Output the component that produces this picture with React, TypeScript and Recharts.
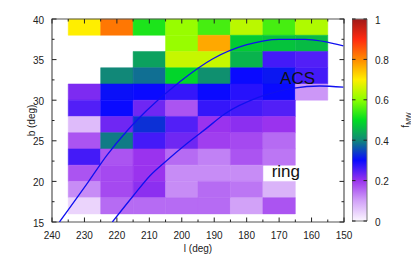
import { ComposedChart, XAxis, YAxis, Line, ReferenceArea, ReferenceDot } from 'recharts';

// chart size and plot box (plot box in px, used for the mirrored ticks)
const W = 411;
const H = 257;
const PLOT_W = 292;
const PLOT_H = 203;
const FONT = 'Liberation Sans, Arial, Helvetica, sans-serif';

// grid: l centers (10 deg wide), b centers (2 deg tall)
const lCenters = [230, 220, 210, 200, 190, 180, 170, 160];
const bCenters = [39, 37, 35, 33, 31, 29, 27, 25, 23, 21, 19, 17];

// f_MW per cell, one row per b center, columns follow lCenters (null = empty)
const fmw: (number | null)[][] = [
    [0.70, 0.82, 0.52, 0.61, 0.55, 0.64, 0.55, 0.63],
    [null, null, null, 0.61, 0.77, 0.48, 0.47, 0.46],
    [null, null, 0.43, 0.65, 0.65, 0.45, 0.26, 0.25],
    [null, 0.40, 0.38, 0.49, 0.41, 0.30, 0.31, 0.26],
    [0.22, 0.305, 0.30, 0.27, 0.30, 0.28, 0.30, 0.11],
    [0.25, 0.30, 0.23, 0.17, 0.27, 0.26, 0.25, null],
    [0.07, 0.23, 0.33, 0.25, 0.20, 0.21, 0.20, null],
    [0.17, 0.39, 0.26, 0.23, 0.19, 0.18, 0.15, null],
    [0.26, 0.17, 0.20, 0.15, 0.13, 0.17, 0.14, null],
    [0.17, 0.18, 0.20, 0.12, 0.12, 0.12, null, null],
    [0.12, 0.18, 0.21, 0.12, 0.15, 0.14, 0.08, null],
    [0.04, 0.15, 0.15, 0.15, 0.15, 0.10, 0.17, null],
];

// ACS great circle
const acsL = [237.7, 228.7, 223.1, 216.7, 210.9, 200.5, 190.4, 180.2, 170, 162, 150.2];
const acsB = [15, 20, 23.2, 26.3, 28.7, 32.3, 35.1, 36.8, 37.5, 37.5, 36.7];

// ring curve
const ringL = [221.4, 215, 209.8, 204.7, 198.6, 192.5, 186.8, 176, 165.4, 157.5, 150.2];
const ringB = [15, 18.2, 20.7, 22.55, 24.6, 26.5, 28.3, 30.4, 31.5, 31.75, 31.6];

// text notes
const noteText = ['ACS', 'ring'];
const noteL = [169.7, 172.3];
const noteB = [32.0, 20.5];

// axis ticks
const xMajor = [240, 230, 220, 210, 200, 190, 180, 170, 160, 150];
const xMinor = [235, 225, 215, 205, 195, 185, 175, 165, 155];
const yMajor = [15, 20, 25, 30, 35, 40];
const yMinor = [17.5, 22.5, 27.5, 32.5, 37.5];
const cbTicks = [0, 0.2, 0.4, 0.6, 0.8, 1];

// colour map of the colour bar
const cmapStops = [0, 0.1, 0.2, 0.3, 0.4, 0.5, 0.6, 0.7, 0.8, 0.9, 1];
const cmapColors = ['#fbf6ff', '#d2a2f8', '#9a33ee', '#0a0aff', '#118878', '#00dd22', '#8cff00', '#ffee00', '#ff8a00', '#ff2a10', '#a01818'];

function hexToRgb(h: string) {
    return [parseInt(h.slice(1, 3), 16), parseInt(h.slice(3, 5), 16), parseInt(h.slice(5, 7), 16)];
}

function colorFor(v: number) {
    let i = 0;
    while (i < cmapStops.length - 2 && v > cmapStops[i + 1]) i++;
    const t = Math.min(1, Math.max(0, (v - cmapStops[i]) / (cmapStops[i + 1] - cmapStops[i])));
    const a = hexToRgb(cmapColors[i]);
    const b = hexToRgb(cmapColors[i + 1]);
    const c = a.map((x, k) => Math.round(x + (b[k] - x) * t));
    return `rgb(${c[0]},${c[1]},${c[2]})`;
}

const cells = bCenters.flatMap((b, r) =>
    lCenters.map((l, c) => ({ l, b, v: fmw[r][c] })).filter(d => d.v !== null)
);
const acsData = acsL.map((l, i) => ({ l, b: acsB[i] }));
const ringData = ringL.map((l, i) => ({ l, b: ringB[i] }));
// two corner points so the colour bar axes have something to scale
const cbRange = [{ x: 0, v: 0 }, { x: 1, v: 1 }];

const XTick = (props: any) => {
    const { x, y, payload } = props;
    const major = payload.value % 10 === 0;
    const len = major ? 4.5 : 2.5;
    return (
        <g>
            <line x1={x} x2={x} y1={y} y2={y - len} stroke="#222" />
            <line x1={x} x2={x} y1={y - PLOT_H} y2={y - PLOT_H + len} stroke="#222" />
            {major && (
                <text x={x} y={y + 13} textAnchor="middle" dominantBaseline="central" fontSize={10} fontFamily={FONT} fill="#222">
                    {payload.value}
                </text>
            )}
        </g>
    );
};

const YTick = (props: any) => {
    const { x, y, payload } = props;
    const major = payload.value % 5 === 0;
    const len = major ? 4.5 : 2.5;
    return (
        <g>
            <line x1={x} x2={x + len} y1={y} y2={y} stroke="#222" />
            <line x1={x + PLOT_W} x2={x + PLOT_W - len} y1={y} y2={y} stroke="#222" />
            {major && (
                <text x={x - 8} y={y + 1} textAnchor="end" dominantBaseline="central" fontSize={10} fontFamily={FONT} fill="#222">
                    {payload.value}
                </text>
            )}
        </g>
    );
};

const CB_PW = 15;

const CbTick = (props: any) => {
    const { x, y, payload } = props;
    return (
        <g>
            <line x1={x} x2={x - 3.5} y1={y} y2={y} stroke="#222" />
            <line x1={x - CB_PW} x2={x - CB_PW + 3.5} y1={y} y2={y} stroke="#222" />
            <text x={x + 8} y={y + 1} textAnchor="start" dominantBaseline="central" fontSize={10} fontFamily={FONT} fill="#222">
                {String(payload.value)}
            </text>
        </g>
    );
};

export default function App() {
    return (
        <div style={{ position: 'absolute', left: 0, top: 0, width: W, height: H, background: '#fff', overflow: 'hidden' }}>
            <div style={{ position: 'absolute', left: 0, top: 0 }}>
                <ComposedChart width={W} height={H} margin={{ top: 19, right: 67, bottom: 0, left: 0 }}>
                    {cells.map(d => (
                        <ReferenceArea
                            key={`${d.l}-${d.b}`}
                            x1={d.l + 5}
                            x2={d.l - 5}
                            y1={d.b - 1}
                            y2={d.b + 1}
                            fill={colorFor(d.v as number)}
                            fillOpacity={1}
                            stroke={colorFor(d.v as number)}
                            strokeWidth={0.5}
                        />
                    ))}
                    <XAxis
                        type="number"
                        dataKey="l"
                        domain={[150, 240]}
                        reversed
                        allowDataOverflow
                        ticks={[...xMajor, ...xMinor]}
                        interval={0}
                        height={35}
                        tickSize={0}
                        tickMargin={0}
                        tickLine={false}
                        axisLine={false}
                        tick={<XTick />}
                        label={(p: any) => (
                            <text x={p.viewBox.x + p.viewBox.width / 2} y={p.viewBox.y + 26} textAnchor="middle" dominantBaseline="central" fontSize={10} fontFamily={FONT} fill="#222">
                                l (deg)
                            </text>
                        )}
                    />
                    <YAxis
                        type="number"
                        dataKey="b"
                        domain={[15, 40]}
                        allowDataOverflow
                        ticks={[...yMajor, ...yMinor]}
                        interval={0}
                        width={52}
                        tickSize={0}
                        tickMargin={0}
                        tickLine={false}
                        axisLine={false}
                        tick={<YTick />}
                        label={(p: any) => {
                            const cx = p.viewBox.x + 31;
                            const cy = p.viewBox.y + p.viewBox.height / 2;
                            return (
                                <text x={cx} y={cy} transform={`rotate(-90, ${cx}, ${cy})`} textAnchor="middle" dominantBaseline="central" fontSize={10} fontFamily={FONT} fill="#222">
                                    b (deg)
                                </text>
                            );
                        }}
                    />
                    <Line data={acsData} dataKey="b" type="monotone" stroke="#1010f0" strokeWidth={1.3} dot={false} isAnimationActive={false} />
                    <Line data={ringData} dataKey="b" type="monotone" stroke="#1010f0" strokeWidth={1.3} dot={false} isAnimationActive={false} />
                    <ReferenceArea x1={240} x2={150} y1={15} y2={40} fill="none" stroke="#555" strokeWidth={1.2} />
                    {noteText.map((t, i) => (
                        <ReferenceDot
                            key={t}
                            x={noteL[i]}
                            y={noteB[i]}
                            r={1}
                            fill="none"
                            stroke="none"
                            label={(p: any) => (
                                <text x={p.viewBox.x + p.viewBox.width / 2} y={p.viewBox.y + p.viewBox.height / 2} fontSize={17} fontFamily={FONT} fill="#111">
                                    {t}
                                </text>
                            )}
                        />
                    ))}
                </ComposedChart>
            </div>
            <div style={{ position: 'absolute', left: 352, top: 0 }}>
                <ComposedChart width={CB_PW + 44} height={H} data={cbRange} margin={{ top: 19, right: 0, bottom: 36, left: 0 }}>
                    <defs>
                        <linearGradient id="cmap" x1="0" y1="1" x2="0" y2="0">
                            {cmapStops.map((s, i) => (
                                <stop key={s} offset={s} stopColor={cmapColors[i]} />
                            ))}
                        </linearGradient>
                    </defs>
                    <XAxis type="number" dataKey="x" domain={[0, 1]} hide />
                    <Line dataKey="v" stroke="none" dot={false} isAnimationActive={false} />
                    <ReferenceArea x1={0} x2={1} y1={0} y2={1} fill="url(#cmap)" fillOpacity={1} stroke="#777" strokeWidth={1} />
                    <YAxis
                        type="number"
                        orientation="right"
                        domain={[0, 1]}
                        ticks={cbTicks}
                        interval={0}
                        width={44}
                        tickSize={0}
                        tickMargin={0}
                        tickLine={false}
                        axisLine={false}
                        tick={<CbTick />}
                        label={(p: any) => {
                            const cx = p.viewBox.x + 38;
                            const cy = p.viewBox.y + p.viewBox.height / 2;
                            return (
                                <text x={cx} y={cy} transform={`rotate(-90, ${cx}, ${cy})`} textAnchor="middle" dominantBaseline="central" fontSize={10} fontFamily={FONT} fill="#222">
                                    f<tspan dy={2.5} fontSize={7}>MW</tspan>
                                </text>
                            );
                        }}
                    />
                </ComposedChart>
            </div>
        </div>
    );
}
